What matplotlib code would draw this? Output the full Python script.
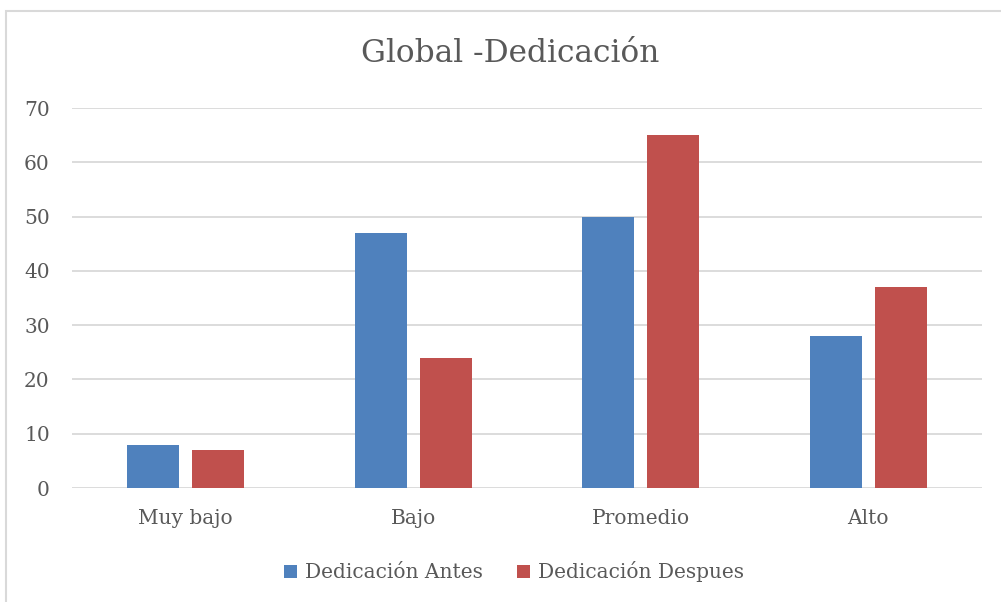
import numpy as np
import matplotlib
matplotlib.use('Agg')
import matplotlib.pyplot as plt
from matplotlib.patches import Rectangle

# data
categories = ['Muy bajo', 'Bajo', 'Promedio', 'Alto']
antes = [8, 47, 50, 28]
despues = [7, 24, 65, 37]
series_names = ['Dedicación Antes', 'Dedicación Despues']
title = 'Global -Dedicación'

BLUE = '#4F81BD'
RED = '#C0504D'
TEXT = '#595959'
GRID = '#D9D9D9'

plt.rcParams['font.family'] = ['DejaVu Serif']

W, H = 1001, 602
fig = plt.figure(figsize=(W / 100, H / 100), dpi=100)

# axes box in pixel coords: x 72..982, y 108(70)..488(0)
ax = fig.add_axes([72 / W, 1 - 488 / H, (982 - 72) / W, (488 - 108) / H])

x = np.arange(len(categories))
bw = 0.229
gap = 0.057
ax.bar(x - (bw + gap) / 2, antes, width=bw, color=BLUE, label=series_names[0], zorder=3)
ax.bar(x + (bw + gap) / 2, despues, width=bw, color=RED, label=series_names[1], zorder=3)

ax.set_xlim(-0.5, len(categories) - 0.5)
ax.set_ylim(0, 70)
ax.set_yticks(range(0, 71, 10))
ax.yaxis.grid(True, color=GRID, linewidth=1.3, zorder=0)
ax.set_axisbelow(True)
for s in ax.spines.values():
    s.set_visible(False)
ax.tick_params(axis='both', length=0, labelsize=14.5, colors=TEXT)
ax.tick_params(axis='y', pad=16)
ax.tick_params(axis='x', pad=15)
ax.set_xticks(x)
ax.set_xticklabels(categories)

fig.text(510 / W, 1 - 54 / H, title, ha='center', va='center', fontsize=22.5, color=TEXT)

leg = fig.legend(loc='center', bbox_to_anchor=(514 / W, 1 - 572 / H), ncol=2, frameon=False,
                 fontsize=14.5, handlelength=0.65, handleheight=0.65, handletextpad=0.4,
                 columnspacing=1.7, labelcolor=TEXT)

# light chart border (only top and left edges fall inside the image)
fig.patches.append(Rectangle((6 / W, -0.05), 1.1, 1.05 - 10.5 / H, transform=fig.transFigure,
                             fill=False, edgecolor=GRID, linewidth=1.5))

fig.savefig('out.png', dpi=100)
